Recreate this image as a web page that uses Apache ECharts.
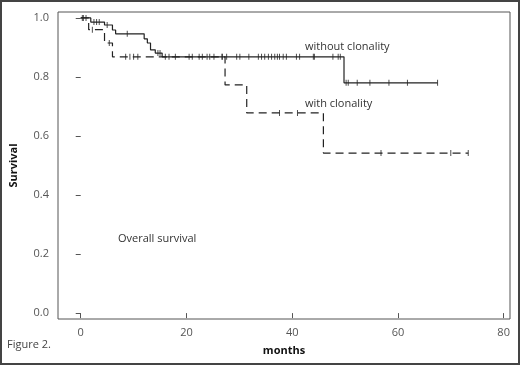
<!DOCTYPE html>
<html>
<head>
<meta charset="utf-8">
<script src="https://cdn.jsdelivr.net/npm/echarts@6/dist/echarts.min.js"></script>
<style>
    html, body { margin: 0; padding: 0; background: #fff; }
    #chart { width: 520px; height: 365px; }
</style>
</head>
<body>
<div id="chart"></div>
<script>
// survival step data (months, survival after event), last entry = end of follow-up
var noCloneTimes = [0, 1.9, 4.5, 6.0, 6.6, 12.0, 12.6, 13.2, 14.1, 15.4, 49.8, 67.5];
var noCloneSurv = [1.0, 0.986, 0.976, 0.959, 0.946, 0.929, 0.915, 0.892, 0.881, 0.868, 0.78, 0.78];
var noCloneCensor = [0.3, 1.0, 2.5, 3.0, 3.5, 5.0, 8.8, 14.6, 15.0, 16.0, 16.7, 17.9, 20.5, 21.1, 22.4,
    23.0, 23.9, 24.4, 25.2, 26.7, 27.6, 29.5, 30.1, 31.8, 33.6, 34.2, 34.8, 35.5, 36.1, 36.7, 37.2,
    37.6, 38.3, 38.9, 40.8, 41.4, 44.0, 44.2, 47.7, 48.7, 49.1, 50.2, 50.6, 52.3, 54.7, 58.3, 61.8, 67.5];

var cloneTimes = [0, 1.5, 4.5, 6.0, 27.3, 31.4, 45.9, 73.3];
var cloneSurv = [1.0, 0.96, 0.915, 0.868, 0.773, 0.678, 0.542, 0.542];
var cloneCensor = [0.5, 2.2, 5.4, 8.5, 9.3, 10.0, 10.8, 26.8, 37.6, 41.0, 56.8, 70.0, 73.3];

var xTicks = [0, 20, 40, 60, 80];
var yTicks = [0, 0.2, 0.4, 0.6, 0.8, 1.0];

function stepData(times, surv) {
    return times.map(function (t, i) { return [t, surv[i]]; });
}
function censorData(ctimes, times, surv) {
    return ctimes.map(function (c) {
        var s = surv[0];
        for (var i = 0; i < times.length; i++) {
            if (times[i] <= c) s = surv[i];
        }
        return [c, s];
    });
}

var myChart = echarts.init(document.getElementById('chart'));
var font = 'Open Sans';
var lineColor = '#222';

var option = {
    animation: false,
    backgroundColor: '#fff',
    grid: {
        left: 55,
        right: 10,
        top: 12,
        bottom: 46,
        show: true,
        borderColor: '#555',
        borderWidth: 1
    },
    xAxis: {
        type: 'value',
        min: -4.3,
        max: 81.2,
        name: 'months',
        nameLocation: 'middle',
        nameGap: 26,
        nameTextStyle: { fontFamily: font, fontSize: 11, fontWeight: 'bold', color: '#111' },
        axisLine: { show: false },
        splitLine: { show: false },
        axisTick: { show: true, length: 5, customValues: xTicks, lineStyle: { color: '#555' } },
        axisLabel: {
            customValues: xTicks,
            fontFamily: font, fontSize: 11, color: '#555', margin: 8
        }
    },
    yAxis: {
        type: 'value',
        min: -0.02,
        max: 1.02,
        name: 'Survival',
        nameLocation: 'middle',
        nameGap: 39,
        nameTextStyle: { fontFamily: font, fontSize: 11, fontWeight: 'bold', color: '#111' },
        axisLine: { show: false },
        splitLine: { show: false },
        axisTick: { show: true, length: 5, customValues: yTicks, lineStyle: { color: '#555' } },
        axisLabel: {
            customValues: yTicks,
            formatter: function (v) { return v.toFixed(1); },
            fontFamily: font, fontSize: 11, color: '#555', margin: 9
        }
    },
    series: [
        {
            name: 'without clonality',
            type: 'line',
            step: 'end',
            symbol: 'none',
            lineStyle: { color: lineColor, width: 1.2 },
            data: stepData(noCloneTimes, noCloneSurv)
        },
        {
            name: 'with clonality',
            type: 'line',
            step: 'end',
            symbol: 'none',
            lineStyle: { color: lineColor, width: 1.2, type: [8, 5] },
            data: stepData(cloneTimes, cloneSurv)
        },
        {
            name: 'without clonality censored',
            type: 'scatter',
            symbol: 'rect',
            symbolSize: [1, 6],
            itemStyle: { color: lineColor },
            data: censorData(noCloneCensor, noCloneTimes, noCloneSurv)
        },
        {
            name: 'with clonality censored',
            type: 'scatter',
            symbol: 'rect',
            symbolSize: [1, 6],
            itemStyle: { color: lineColor },
            data: censorData(cloneCensor, cloneTimes, cloneSurv)
        }
    ],
    graphic: [
        {
            type: 'rect',
            shape: { x: 1, y: 1, width: 518, height: 363 },
            style: { fill: 'none', stroke: '#444', lineWidth: 2 },
            silent: true
        },
        {
            type: 'text', left: 305, top: 41,
            style: { text: 'without clonality', fontFamily: font, fontSize: 11, fill: '#333' }
        },
        {
            type: 'text', left: 305, top: 98,
            style: { text: 'with clonality', fontFamily: font, fontSize: 11, fill: '#333' }
        },
        {
            type: 'text', left: 118, top: 233,
            style: { text: 'Overall survival', fontFamily: font, fontSize: 11, fill: '#333' }
        },
        {
            type: 'text', left: 7, top: 339,
            style: { text: 'Figure 2.', fontFamily: font, fontSize: 11, fill: '#444' }
        }
    ]
};

myChart.setOption(option);
</script>
</body>
</html>
